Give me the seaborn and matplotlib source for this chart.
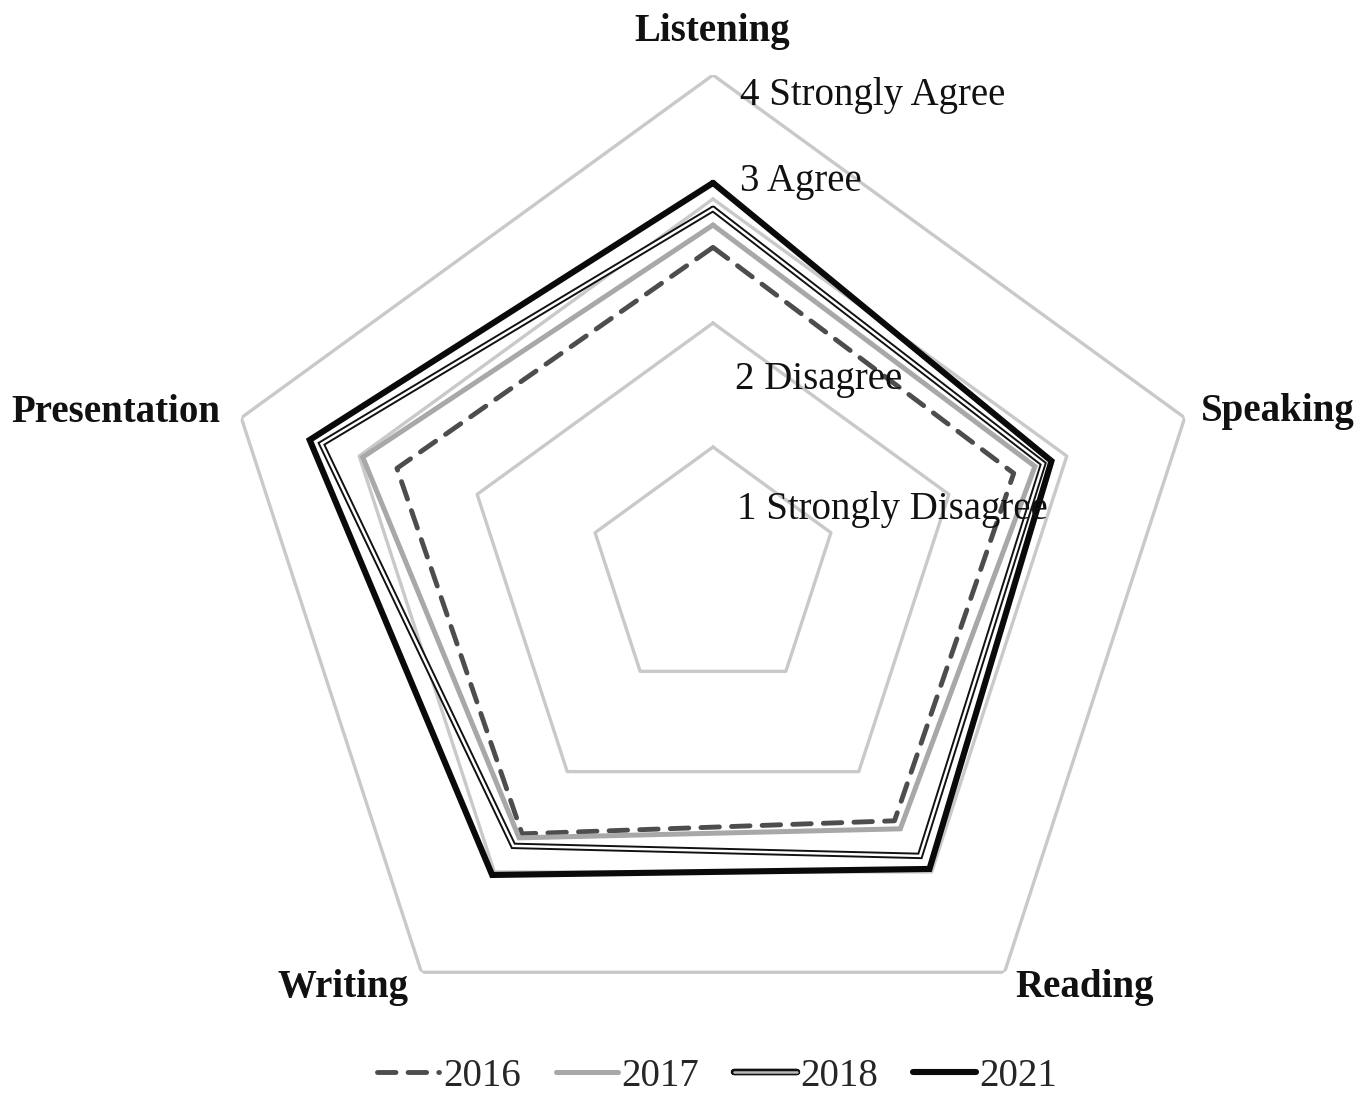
import numpy as np
import pandas as pd
import matplotlib
matplotlib.use("Agg")
import matplotlib.pyplot as plt
from matplotlib.lines import Line2D
import matplotlib.patheffects as pe
import seaborn as sns

categories = ["Listening", "Speaking", "Reading", "Writing", "Presentation"]
years = ["2016", "2017", "2018", "2021"]
v2016 = [2.61, 2.55, 2.49, 2.62, 2.68]
v2017 = [2.79, 2.73, 2.57, 2.66, 2.97]
v2018 = [2.92, 2.80, 2.84, 2.74, 3.32]
v2021 = [3.13, 2.87, 2.97, 3.03, 3.42]
levels = [1, 2, 3, 4]
level_labels = ["1 Strongly Disagree", "2 Disagree", "3 Agree", "4 Strongly Agree"]

sns.set_style("white")
plt.rcParams["font.family"] = ["Liberation Serif", "DejaVu Serif"]

W, H = 1370, 1109
fig = plt.figure(figsize=(W / 100, H / 100), dpi=100)
cx, cy, R = 713, 571, 496
ax = fig.add_axes([(cx - R) / W, 1 - (cy + R) / H, 2 * R / W, 2 * R / H], projection="polar")
ax.set_theta_offset(np.pi / 2)
ax.set_theta_direction(-1)
ax.set_ylim(0, 4)
ax.spines["polar"].set_visible(False)
ax.grid(False)
ax.set_xticks([])
ax.set_yticks([])
ax.patch.set_alpha(0)

n = len(categories)
theta = np.linspace(0, 2 * np.pi, n + 1)

# pentagon grid rings
for lv in levels:
    ax.plot(theta, [lv] * (n + 1), color="#c9c9c9", lw=2.4, zorder=1)

def closed(vals):
    return pd.DataFrame({"theta": theta, "r": list(vals) + [vals[0]]})

d = closed(v2016)
sns.lineplot(data=d, x="theta", y="r", sort=False, estimator=None, ax=ax,
             color="#4d4d4d", lw=3.5, linestyle=(0, (3.8, 2.5)),
             dash_capstyle="round", zorder=3)
d = closed(v2017)
sns.lineplot(data=d, x="theta", y="r", sort=False, estimator=None, ax=ax,
             color="#a8a8a8", lw=3.6, zorder=3, solid_joinstyle="miter")
d = closed(v2018)
sns.lineplot(data=d, x="theta", y="r", sort=False, estimator=None, ax=ax,
             color="#111111", lw=4.6, zorder=4, solid_joinstyle="miter")
sns.lineplot(data=d, x="theta", y="r", sort=False, estimator=None, ax=ax,
             color="white", lw=1.8, zorder=5, solid_joinstyle="miter")
d = closed(v2021)
sns.lineplot(data=d, x="theta", y="r", sort=False, estimator=None, ax=ax,
             color="#0a0a0a", lw=4.4, zorder=6, solid_joinstyle="miter")

# level labels
lvl_pos = {1: (737, 510), 2: (735, 380), 3: (740, 181), 4: (740, 96)}
for lv, lab in zip(levels, level_labels):
    x, y = lvl_pos[lv]
    fig.text(x / W, 1 - y / H, lab, fontsize=28, ha="left", va="center", color="#111111", zorder=10)

# category labels
cat_pos = [(712, 32), (1278, 412), (1085, 988), (343, 988), (116, 412)]
for lab, (x, y) in zip(categories, cat_pos):
    fig.text(x / W, 1 - y / H, lab, fontsize=28, fontweight="bold", ha="center", va="center", color="#111111")

# legend
h2016 = Line2D([], [], color="#4d4d4d", lw=3.5, linestyle=(0, (3.8, 2.5)), dash_capstyle="round")
h2017 = Line2D([], [], color="#a8a8a8", lw=3.6)
h2018 = Line2D([], [], color="#111111", lw=4.6,
               path_effects=[pe.Stroke(linewidth=4.6, foreground="#111111"), pe.Normal(),
                             pe.Stroke(linewidth=1.8, foreground="#bbbbbb")])
h2021 = Line2D([], [], color="#0a0a0a", lw=4.4)
fig.legend([h2016, h2017, h2018, h2021], years, loc="center", bbox_to_anchor=(717 / W, 1 - 1076 / H),
           ncol=4, frameon=False, fontsize=28, handlelength=1.6, handletextpad=0.1, columnspacing=0.9)

fig.savefig("out.png", dpi=100)
